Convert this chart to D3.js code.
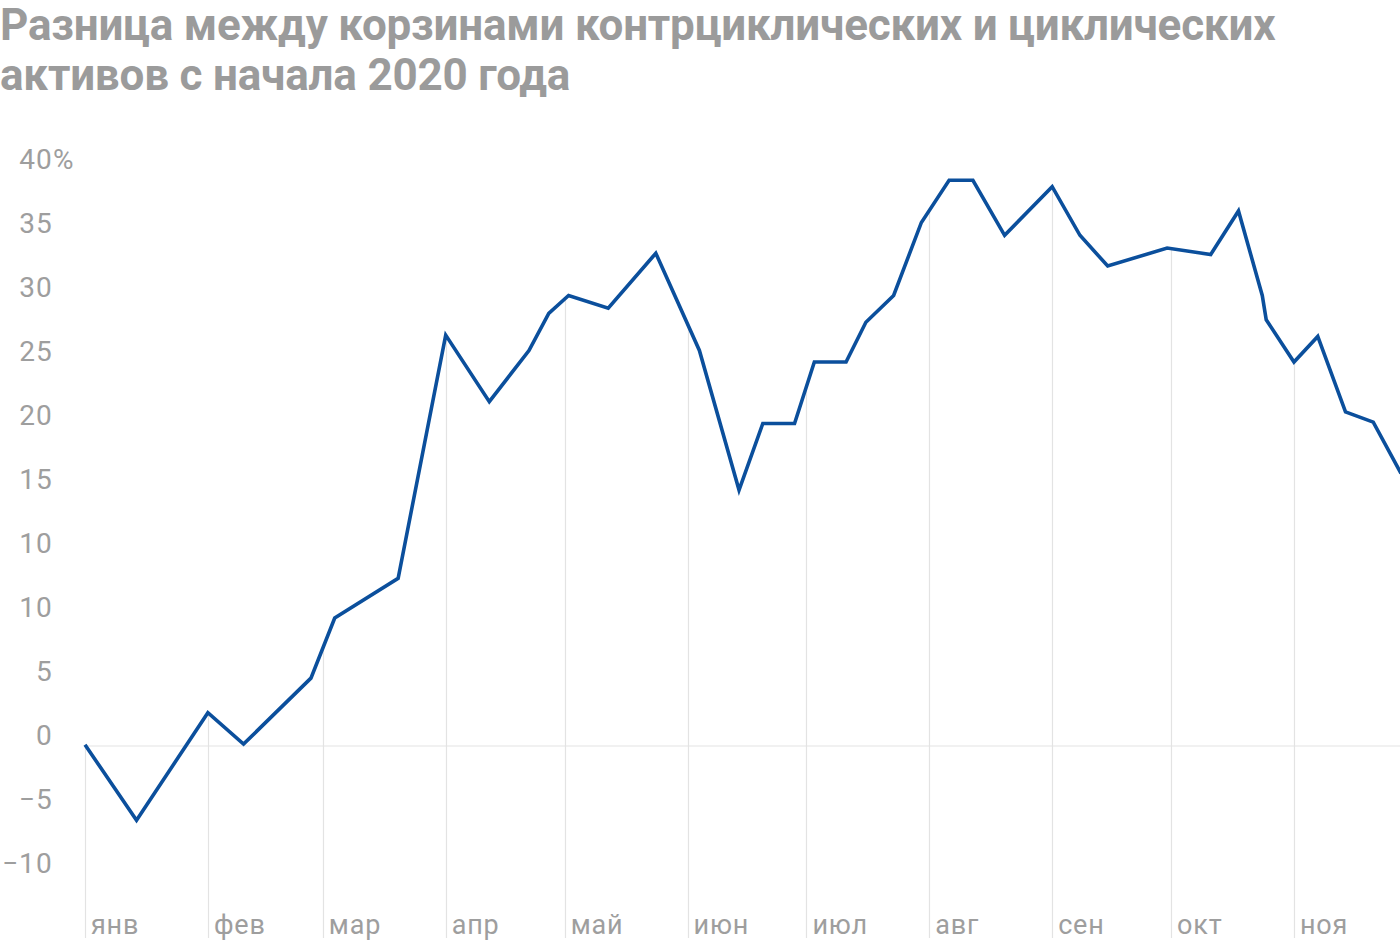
<!DOCTYPE html>
<html><head><meta charset="utf-8">
<script src="https://cdn.jsdelivr.net/npm/d3@7"></script>
<style>
body{margin:0;background:#fff;}
svg{display:block;font-family:Roboto, "Noto Sans", sans-serif;}
</style>
</head><body>
<svg id="chart" width="1400" height="944"></svg>
<script>
const titleLines = ["Разница между корзинами контрциклических и циклических", "активов с начала 2020 года"];

const dates = ["2020-01-01","2020-01-14","2020-02-01","2020-02-10","2020-02-27","2020-03-04","2020-03-20","2020-04-01","2020-04-12","2020-04-22","2020-04-27","2020-05-02","2020-05-12","2020-05-24","2020-06-04","2020-06-14","2020-06-20","2020-06-28","2020-07-03","2020-07-11","2020-07-16","2020-07-23","2020-07-30","2020-08-06","2020-08-12","2020-08-20","2020-09-01","2020-09-08","2020-09-15","2020-09-30","2020-10-11","2020-10-18","2020-10-24","2020-10-25","2020-11-01","2020-11-07","2020-11-14","2020-11-21","2020-11-28"];
const values = [0.1,-5.8,2.6,0.15,5.3,10.0,13.1,32.1,26.9,30.9,33.8,35.2,34.2,38.5,30.9,20.0,25.2,25.2,30.0,30.0,33.1,35.2,40.9,44.2,44.2,39.9,43.7,39.9,37.5,38.9,38.4,41.8,35.2,33.3,30.0,32.0,26.1,25.3,21.3];

const yTickValues = [-10,-5,0,5,10,15,20,25,30,35,40,45];
const yTickLabels = ["−10","−5","0","5","10","10","15","20","25","30","35","40%"];

const monthStarts = ["2020-01-01","2020-02-01","2020-03-01","2020-04-01","2020-05-01","2020-06-01","2020-07-01","2020-08-01","2020-09-01","2020-10-01","2020-11-01"];
const monthLabels = ["янв","фев","мар","апр","май","июн","июл","авг","сен","окт","ноя"];

const parse = d3.timeParse("%Y-%m-%d");
const data = dates.map((d,i)=>({date:parse(d), value:values[i]}));
const months = monthStarts.map(parse);

const svg = d3.select("#chart");
const W = 1400, H = 944;
const bottom = 938;

const x = d3.scaleTime().domain([parse("2020-01-01"), parse("2020-11-28")]).range([85, 1401]);
const y = d3.scaleLinear().domain([-10, 45]).range([874, 170]);

// title
const title = svg.append("text").attr("fill", "#9b9b9b")
  .attr("font-weight", 700).attr("font-size", 44).attr("letter-spacing", -0.2);
titleLines.forEach((t,i)=>{
  title.append("tspan").attr("x", 0).attr("y", 40 + i*50).text(t);
});

// interpolate value at a date
function valueAt(dt){
  const bis = d3.bisector(d=>d.date).left;
  let i = bis(data, dt);
  if (i <= 0) return data[0].value;
  if (i >= data.length) return data[data.length-1].value;
  const a = data[i-1], b = data[i];
  const t = (dt - a.date)/(b.date - a.date);
  return a.value + t*(b.value - a.value);
}

// zero line
svg.append("line")
  .attr("x1", x(months[0])).attr("x2", W)
  .attr("y1", y(0)).attr("y2", y(0))
  .attr("stroke", "#e3e3e3").attr("stroke-width", 1.2);

// month drop lines
svg.append("g").selectAll("line").data(months).join("line")
  .attr("x1", d=>Math.round(x(d))+0.5).attr("x2", d=>Math.round(x(d))+0.5)
  .attr("y1", d=>y(valueAt(d))).attr("y2", bottom)
  .attr("stroke", "#e3e3e3").attr("stroke-width", 1.2);

// month labels
svg.append("g").selectAll("text").data(months).join("text")
  .attr("x", d=>x(d)+6).attr("y", 934)
  .attr("fill", "#9e9e9e").attr("font-size", 27).attr("letter-spacing", 0.8)
  .text((d,i)=>monthLabels[i]);

// y labels
const yl = svg.append("g");
yTickValues.forEach((v,i)=>{
  const lab = yTickLabels[i];
  const pct = lab.endsWith("%");
  const num = pct ? lab.slice(0,-1) : lab;
  yl.append("text").attr("x", 53).attr("y", y(v)-1)
    .attr("text-anchor","end").attr("fill","#9e9e9e").attr("font-size",28)
    .attr("letter-spacing", 1.2).text(num);
  if (pct) yl.append("text").attr("x", 53).attr("y", y(v)-1)
    .attr("fill","#9e9e9e").attr("font-size",28).text("%");
});

// line
const line = d3.line().x(d=>x(d.date)).y(d=>y(d.value));
svg.append("path").datum(data)
  .attr("d", line).attr("fill","none")
  .attr("stroke","#0b4f9c").attr("stroke-width",3.6)
  .attr("stroke-linejoin","miter").attr("stroke-miterlimit", 4);
</script>
</body></html>
